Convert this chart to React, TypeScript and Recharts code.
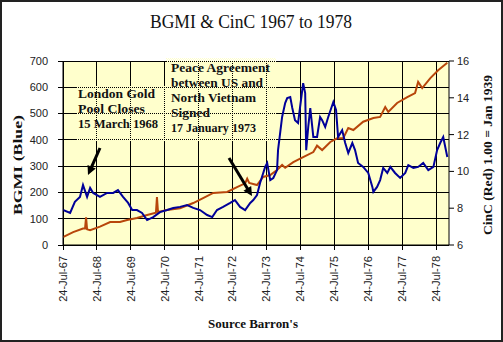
import React from 'react';
import { LineChart, Line, XAxis, YAxis } from 'recharts';

// BGMI (Blue) — decimal year / index value
const bgmiDates = [
  1967.56, 1967.77, 1967.91, 1968.06, 1968.15, 1968.27, 1968.36, 1968.45, 1968.65, 1968.86,
  1969.04, 1969.18, 1969.33, 1969.48, 1969.60, 1969.74, 1969.89, 1970.04, 1970.22, 1970.42,
  1970.63, 1970.81, 1971.01, 1971.22, 1971.40, 1971.60, 1971.81, 1971.96, 1972.10, 1972.28,
  1972.49, 1972.63, 1972.78, 1972.93, 1973.08, 1973.17, 1973.28, 1973.37, 1973.52, 1973.58,
  1973.67, 1973.76, 1973.87, 1973.90, 1974.02, 1974.11, 1974.17, 1974.26, 1974.32, 1974.40,
  1974.49, 1974.55, 1974.64, 1974.70, 1974.73, 1974.79, 1974.85, 1974.94, 1975.05, 1975.14,
  1975.20, 1975.29, 1975.38, 1975.53, 1975.61, 1975.67, 1975.79, 1975.88, 1975.97, 1976.09,
  1976.17, 1976.26, 1976.41, 1976.56, 1976.68, 1976.71, 1976.82, 1976.91, 1977.00, 1977.12,
  1977.21, 1977.35, 1977.50, 1977.65, 1977.74, 1977.89, 1978.03, 1978.18, 1978.33, 1978.48,
  1978.59, 1978.68, 1978.77, 1978.89,
];
const bgmiValues = [
  133, 122, 164, 183, 228, 183, 217, 198, 183, 198,
  198, 209, 183, 160, 133, 133, 122, 95, 106, 125,
  133, 141, 145, 152, 141, 133, 114, 106, 133, 145,
  160, 171, 145, 133, 160, 171, 190, 236, 297, 312,
  247, 255, 285, 361, 487, 540, 559, 563, 521, 475,
  464, 525, 616, 578, 361, 449, 521, 411, 411, 487,
  475, 449, 487, 544, 514, 411, 437, 388, 350, 388,
  361, 312, 297, 274, 221, 202, 221, 247, 293, 274,
  297, 274, 255, 274, 304, 293, 297, 312, 285, 297,
  361, 388, 411, 335,
];

// CinC (Red) — 1.00 = Jan 1939
const cincDates = [
  1967.56, 1967.86, 1968.15, 1968.21, 1968.24, 1968.27, 1968.36, 1968.65, 1968.95, 1969.24,
  1969.45, 1969.74, 1970.04, 1970.30, 1970.33, 1970.36, 1970.63, 1971.01, 1971.40, 1971.69,
  1971.99, 1972.40, 1972.69, 1972.93, 1972.99, 1973.05, 1973.28, 1973.46, 1973.67, 1973.87,
  1974.02, 1974.11, 1974.35, 1974.64, 1974.94, 1975.05, 1975.20, 1975.44, 1975.64, 1975.82,
  1975.97, 1976.12, 1976.41, 1976.71, 1976.91, 1977.06, 1977.15, 1977.41, 1977.71, 1977.94,
  1978.03, 1978.15, 1978.39, 1978.62, 1978.89,
];
const cincValues = [
  6.43, 6.7, 6.9, 6.9, 7.5, 6.85, 6.8, 7.0, 7.25, 7.25,
  7.36, 7.47, 7.63, 7.75, 8.6, 7.8, 7.9, 8.0, 8.28, 8.55,
  8.83, 8.88, 9.15, 9.35, 9.6, 9.37, 9.26, 9.7, 9.8, 10.08,
  10.35, 10.2, 10.5, 10.78, 11.05, 11.4, 11.16, 11.6, 11.8, 11.8,
  12.36, 12.25, 12.7, 12.9, 12.96, 13.5, 13.23, 13.72, 14.04, 14.26,
  14.86, 14.53, 15.07, 15.5, 15.9,
];

const yearTicks = [1967.56, 1968.56, 1969.56, 1970.56, 1971.56, 1972.56, 1973.56, 1974.56, 1975.56, 1976.56, 1977.56, 1978.56];
const yearTickLabels = ['24-Jul-67', '24-Jul-68', '24-Jul-69', '24-Jul-70', '24-Jul-71', '24-Jul-72', '24-Jul-73', '24-Jul-74', '24-Jul-75', '24-Jul-76', '24-Jul-77', '24-Jul-78'];
const leftTicks = [0, 100, 200, 300, 400, 500, 600, 700];
const rightTicks = [6, 8, 10, 12, 14, 16];

const titleText = 'BGMI & CinC 1967 to 1978';
const leftAxisTitle = 'BGMI (Blue)';
const rightAxisTitle = 'CinC (Red) 1.00 = Jan 1939';
const sourceText = "Source Barron's";
const note1Lines = ['London Gold', 'Pool Closes', '15 March 1968'];
const note2Lines = ['Peace Agreement', 'between US and', 'North Vietnam', 'Signed', '17 January 1973'];

const X_DOMAIN: [number, number] = [1967.56, 1978.94];
const LEFT_DOMAIN: [number, number] = [0, 700];

// layout
const W = 503;
const H = 342;
const M_TOP = 61;
const LEFT_W = 63;
const RIGHT_W = 54;
const X_H = 97;
const PLOT_W = W - LEFT_W - RIGHT_W;
const PLOT_H = H - M_TOP - X_H;

// linear maps matching the chart's axis domains onto the plot rectangle (for gridlines)
const gx = (t: number) => LEFT_W + ((t - X_DOMAIN[0]) / (X_DOMAIN[1] - X_DOMAIN[0])) * PLOT_W;
const gy = (v: number) => M_TOP + PLOT_H - ((v - LEFT_DOMAIN[0]) / (LEFT_DOMAIN[1] - LEFT_DOMAIN[0])) * PLOT_H;

const bgmiData = bgmiDates.map((date, i) => ({ date, bgmi: bgmiValues[i] }));
const cincData = cincDates.map((date, i) => ({ date, cinc: cincValues[i] }));

const SANS = '"Liberation Sans", Arial, sans-serif';
const SERIF = '"Liberation Serif", "Times New Roman", serif';

const XTick = (props: any) => {
  const { x, y, payload, index } = props;
  const label = yearTickLabels[payload?.index ?? index] ?? '';
  const ty = Number(y) + 10;
  return (
    <text
      x={x}
      y={ty}
      transform={`rotate(-90, ${x}, ${ty})`}
      textAnchor="end"
      dy="0.35em"
      dx={-1}
      fontSize={11}
      fontFamily={SANS}
      fill="#222"
    >
      {label}
    </text>
  );
};

const YTick = (props: any) => {
  const { x, y, payload } = props;
  return (
    <text x={Number(x) - 15} y={y} dy="0.355em" textAnchor="end" fontSize={11} fontFamily={SANS} fill="#222">
      {payload.value}
    </text>
  );
};

const Arrow = ({ x1, y1, x2, y2 }: { x1: number; y1: number; x2: number; y2: number }) => {
  const dx = x2 - x1;
  const dy = y2 - y1;
  const len = Math.sqrt(dx * dx + dy * dy);
  const ux = dx / len;
  const uy = dy / len;
  const hl = 9;
  const hw = 4.5;
  const bx = x2 - ux * hl;
  const by = y2 - uy * hl;
  const pts = `${x2},${y2} ${bx - uy * hw},${by + ux * hw} ${bx + uy * hw},${by - ux * hw}`;
  return (
    <g>
      <line x1={x1} y1={y1} x2={bx + ux} y2={by + uy} stroke="#000" strokeWidth={3} />
      <polygon points={pts} fill="#000" />
    </g>
  );
};

export default function App() {
  return (
    <div style={{ position: 'absolute', left: 0, top: 0, width: W, height: H, background: '#fff' }}>
      <svg width={W} height={H} style={{ position: 'absolute', left: 0, top: 0 }}>
        <rect x={LEFT_W} y={M_TOP} width={PLOT_W} height={PLOT_H} fill="#FFFFCC" />
        {yearTicks.map((t) => {
          const px = Math.floor(gx(t)) + 0.5;
          return <line key={`v${t}`} x1={px} y1={M_TOP} x2={px} y2={M_TOP + PLOT_H + 5} stroke="#000" strokeWidth={1} />;
        })}
        {leftTicks.map((v) => {
          const py = Math.floor(gy(v)) + 0.5;
          return <line key={`h${v}`} x1={LEFT_W - 5} y1={py} x2={LEFT_W + PLOT_W} y2={py} stroke="#000" strokeWidth={1} />;
        })}
      </svg>
      <LineChart
        width={W}
        height={H}
        data={bgmiData}
        margin={{ top: M_TOP, right: 0, bottom: 0, left: 0 }}
        style={{ position: 'absolute', left: 0, top: 0 }}
      >
        <XAxis
          dataKey="date"
          type="number"
          domain={X_DOMAIN}
          allowDataOverflow
          ticks={yearTicks}
          interval={0}
          height={X_H}
          tick={XTick}
          tickSize={0}
          tickMargin={0}
          tickLine={false}
          axisLine={{ stroke: '#000' }}
        />
        <YAxis
          domain={LEFT_DOMAIN}
          ticks={leftTicks}
          interval={0}
          width={LEFT_W}
          tickSize={0}
          tickMargin={0}
          tick={YTick}
          tickLine={false}
          axisLine={{ stroke: '#000' }}
          allowDataOverflow
        />
        <YAxis
          yAxisId="right"
          orientation="right"
          domain={[6, 16]}
          ticks={rightTicks}
          interval={0}
          width={RIGHT_W}
          tickSize={5}
          tickMargin={3}
          tick={{ fontSize: 11, fontFamily: SANS, fill: '#222', textAnchor: 'start' }}
          tickLine={{ stroke: '#000' }}
          axisLine={{ stroke: '#000' }}
          allowDataOverflow
        />
        <Line
          yAxisId="right"
          data={cincData}
          dataKey="cinc"
          stroke="#B8460B"
          strokeWidth={2}
          dot={false}
          isAnimationActive={false}
          type="linear"
        />
        <Line
          dataKey="bgmi"
          stroke="#000099"
          strokeWidth={2}
          dot={false}
          isAnimationActive={false}
          type="linear"
        />
      </LineChart>
      <svg
        width={W}
        height={H}
        style={{ position: 'absolute', left: 0, top: 0, pointerEvents: 'none' }}
      >
        <defs>
          <pattern id="dither" width={2} height={2} patternUnits="userSpaceOnUse">
            <rect x={0} y={0} width={1} height={1} fill="#FFFFCC" />
            <rect x={1} y={1} width={1} height={1} fill="#FFFFCC" />
          </pattern>
        </defs>
        <rect x={77} y={86} width={89} height={56} fill="url(#dither)" />
        <rect x={166} y={58} width={110} height={84} fill="url(#dither)" />
        <text x={251} y={28} textAnchor="middle" fontSize={18} fontFamily={SERIF} fill="#111" textLength={202} lengthAdjust="spacingAndGlyphs">
          {titleText}
        </text>
        <text
          x={22}
          y={165}
          transform="rotate(-90, 22, 165)"
          textAnchor="middle"
          fontSize={13}
          fontWeight="bold"
          fontFamily={SERIF}
          fill="#111"
          textLength={100}
          lengthAdjust="spacingAndGlyphs"
        >
          {leftAxisTitle}
        </text>
        <text
          x={492}
          y={155}
          transform="rotate(-90, 492, 155)"
          textAnchor="middle"
          fontSize={13}
          fontWeight="bold"
          fontFamily={SERIF}
          fill="#111"
          textLength={160}
          lengthAdjust="spacingAndGlyphs"
        >
          {rightAxisTitle}
        </text>
        <text x={253} y={328} textAnchor="middle" fontSize={12} fontWeight="bold" fontFamily={SERIF} fill="#111" textLength={90} lengthAdjust="spacingAndGlyphs">
          {sourceText}
        </text>
        {note1Lines.map((t, i) => (
          <text key={t} x={78} y={98 + i * 15} fontSize={13} fontWeight="bold" fontFamily={SERIF} fill="#111" textLength={[77, 67, 80][i]} lengthAdjust="spacingAndGlyphs">
            {t}
          </text>
        ))}
        {note2Lines.map((t, i) => (
          <text key={t} x={171} y={72 + i * 15} fontSize={13} fontWeight="bold" fontFamily={SERIF} fill="#111" textLength={[99, 92, 85, 39, 85][i]} lengthAdjust="spacingAndGlyphs">
            {t}
          </text>
        ))}
        <Arrow x1={100} y1={148} x2={88} y2={175} />
        <Arrow x1={229} y1={158} x2={252} y2={196} />
      </svg>
      <div style={{ position: 'absolute', left: 0, top: 0, width: W, height: H, boxSizing: 'border-box', border: '2px solid #222', pointerEvents: 'none' }} />
    </div>
  );
}
